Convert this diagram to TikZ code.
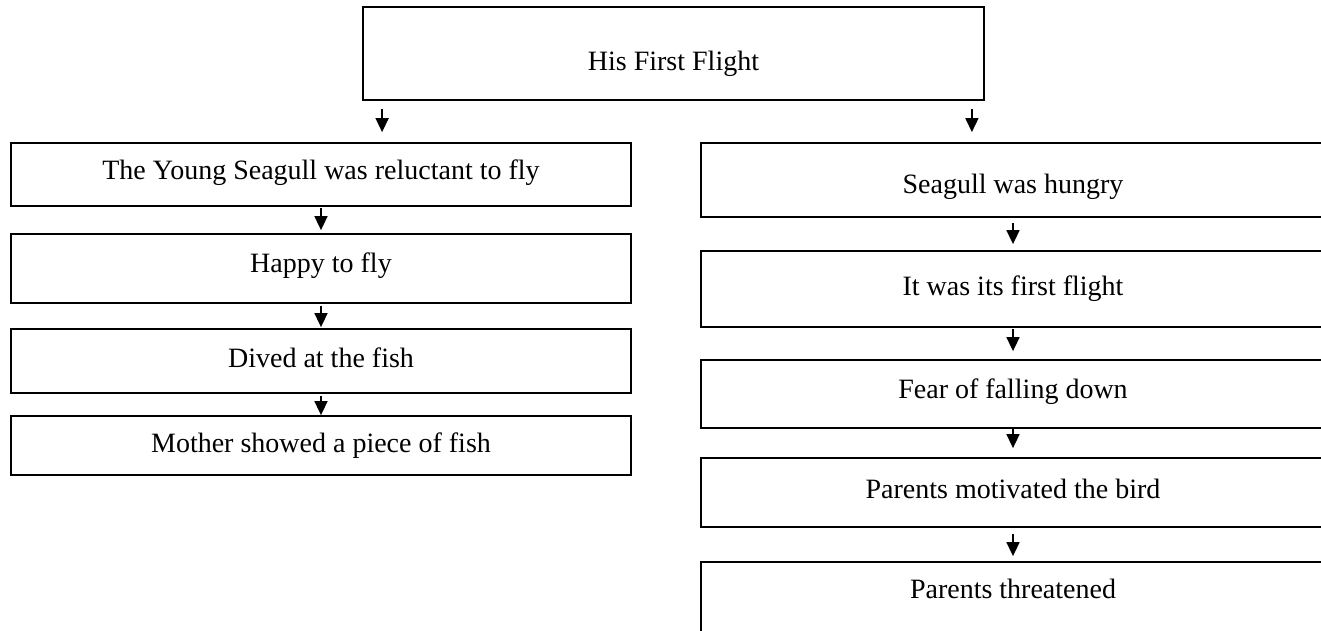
\documentclass[tikz,border=0pt]{standalone}
\usepackage{fontspec}
\setmainfont{Liberation Serif}
\usetikzlibrary{arrows.meta}
\begin{document}
\begin{tikzpicture}[x=1pt,y=-1pt,
  box/.style={draw=black, line width=1.8pt, inner sep=0pt, fill=none},
  txt/.style={font=\fontsize{28pt}{34pt}\selectfont, inner sep=0pt, anchor=base},
  arr/.style={line width=1.6pt, -{Triangle[length=14pt,width=13pt]}}]

% canvas
\fill[white] (0,0) rectangle (1321,630);
\clip (0,0) rectangle (1321,630);

% title box
\node[box, minimum width=621pt, minimum height=93pt] (top) at (673.5,53.5) {};
\node[txt] (tTop) at (673.5,70) {His First Flight};

% left column
\node[box, minimum width=620pt, minimum height=63pt] (L1) at (321,174.5) {};
\node[box, minimum width=620pt, minimum height=69pt] (L2) at (321,268.5) {};
\node[box, minimum width=620pt, minimum height=64pt] (L3) at (321,361) {};
\node[box, minimum width=620pt, minimum height=59pt] (L4) at (321,445.5) {};
\node[txt] (tL1) at (321,179) {The Young Seagull was reluctant to fly};
\node[txt] (tL2) at (321,272) {Happy to fly};
\node[txt] (tL3) at (321,367) {Dived at the fish};
\node[txt] (tL4) at (321,452) {Mother showed a piece of fish};

% right column (runs past the right and bottom edges)
\node[box, minimum width=624pt, minimum height=74pt] (R1) at (1013,180) {};
\node[box, minimum width=624pt, minimum height=76pt] (R2) at (1013,289) {};
\node[box, minimum width=624pt, minimum height=68pt] (R3) at (1013,394) {};
\node[box, minimum width=624pt, minimum height=69pt] (R4) at (1013,492.5) {};
\node[box, minimum width=624pt, minimum height=100pt] (R5) at (1013,612) {};
\node[txt] (tR1) at (1013,193) {Seagull was hungry};
\node[txt] (tR2) at (1013,295) {It was its first flight};
\node[txt] (tR3) at (1013,398) {Fear of falling down};
\node[txt] (tR4) at (1013,498) {Parents motivated the bird};
\node[txt] (tR5) at (1013,598) {Parents threatened};

% arrows from the title
\draw[arr, shorten <=8pt, shorten >=10pt] ([xshift=20pt]top.south west) -- ([xshift=20pt]top.south west |- L1.north);
\draw[arr, shorten <=8pt, shorten >=10pt] ([xshift=-13pt]top.south east) -- ([xshift=-13pt]top.south east |- R1.north);

% left chain
\draw[arr, shorten <=1pt, shorten >=3pt] (L1.south) -- (L2.north);
\draw[arr, shorten <=2pt, shorten >=1pt] (L2.south) -- (L3.north);
\draw[arr, shorten <=2pt, shorten >=0pt] (L3.south) -- (L4.north);

% right chain
\draw[arr, shorten <=5pt, shorten >=6pt] (R1.south) -- (R2.north);
\draw[arr, shorten <=1pt, shorten >=8pt] (R2.south) -- (R3.north);
\draw[arr, shorten <=-1pt, shorten >=9pt] (R3.south) -- (R4.north);
\draw[arr, shorten <=6pt, shorten >=5pt] (R4.south) -- (R5.north);
\end{tikzpicture}
\end{document}
